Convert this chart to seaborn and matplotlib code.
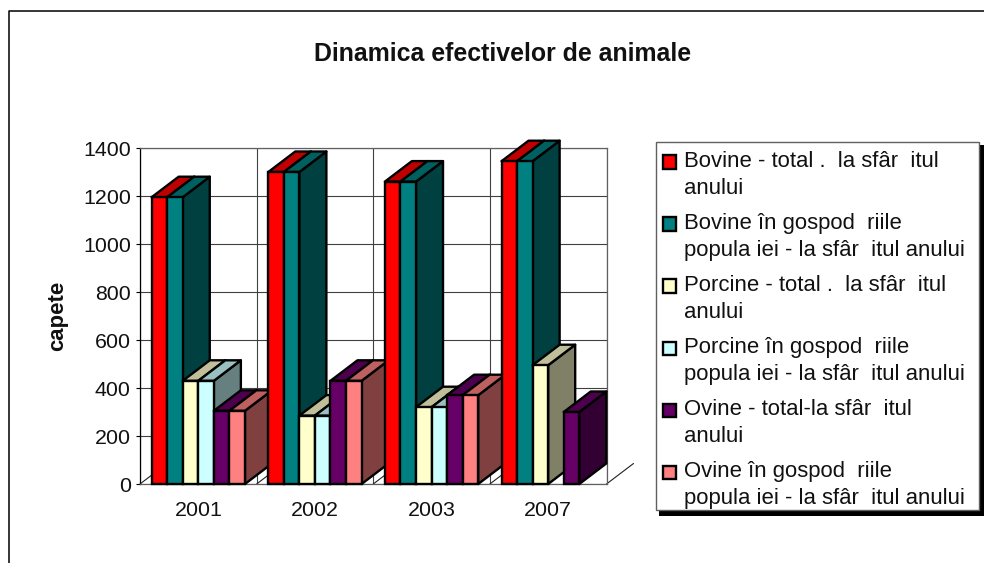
import numpy as np
import pandas as pd
import matplotlib
matplotlib.use("Agg")
import matplotlib.pyplot as plt
from matplotlib.colors import to_rgb
from matplotlib.legend_handler import HandlerPatch
from matplotlib.lines import Line2D
from matplotlib.patches import Polygon, Rectangle
import seaborn as sns

years = ["2001", "2002", "2003", "2007"]
series_names = [
    "Bovine - total .  la sfâr  itul\nanului",
    "Bovine în gospod  riile\npopula iei - la sfâr  itul anului",
    "Porcine - total .  la sfâr  itul\nanului",
    "Porcine în gospod  riile\npopula iei - la sfâr  itul anului",
    "Ovine - total-la sfâr  itul\nanului",
    "Ovine în gospod  riile\npopula iei - la sfâr  itul anului",
]
bovine_total = [1195, 1300, 1260, 1345]
bovine_household = [1195, 1300, 1260, 1345]
porcine_total = [430, 285, 320, 495]
porcine_household = [430, 285, 320, np.nan]
ovine_total = [305, 430, 370, 300]
ovine_household = [305, 430, 370, np.nan]
colors = ["#FF0000", "#008080", "#FFFFCC", "#CCFFFF", "#660066", "#FF8080"]

W, H = 984, 563
sns.set_style("white")
plt.rcParams["font.family"] = ["Liberation Sans", "DejaVu Sans"]
plt.rcParams["text.color"] = "#111111"
plt.rcParams["xtick.color"] = "#111111"
plt.rcParams["ytick.color"] = "#111111"
plt.rcParams["axes.labelcolor"] = "#111111"

values = [bovine_total, bovine_household, porcine_total,
          porcine_household, ovine_total, ovine_household]
df = pd.DataFrame({
    "year": np.repeat(years, len(series_names)),
    "series": series_names * len(years),
    "value": [values[s][y] for y in range(len(years)) for s in range(len(series_names))],
})

fig = plt.figure(figsize=(W / 100, H / 100), dpi=100, facecolor="white")
ax = fig.add_axes([140 / W, 1 - 484 / H, 466.5 / W, 336 / H])
sns.barplot(data=df, x="year", y="value", hue="series", hue_order=series_names,
            order=years, palette=colors, width=0.8, gap=0, saturation=1,
            edgecolor="black", linewidth=1.7, ax=ax)
ax.set_xlim(-0.5, 3.5)
ax.set_ylim(0, 1400)
ax.set_yticks(range(0, 1401, 200))
ax.set_xlabel("")
ax.set_ylabel("capete", fontsize=15.9, fontweight="bold", labelpad=11)
ax.tick_params(axis="y", labelsize=15.4, length=3, width=0.8, color="black", pad=3.6, left=True)
ax.tick_params(axis="x", labelsize=15.4, length=0, pad=12)

# walls
bounds = np.arange(len(years) + 1) - 0.5
ax.set_axisbelow(True)
ax.yaxis.grid(True, color="#404040", lw=0.8)
ax.set_xticks(bounds, minor=True)
ax.tick_params(axis="x", which="minor", length=0)
ax.xaxis.grid(True, which="minor", color="#404040", lw=0.8)
for side, col in {"left": "black", "right": "#606060", "top": "#606060", "bottom": "#606060"}.items():
    ax.spines[side].set_visible(True)
    ax.spines[side].set_color(col)
    ax.spines[side].set_linewidth(0.9)

# depth of the pseudo-3D bars, in pixels converted through the axes scales
DX_PX, DY_PX = 27, 20.5
dx = DX_PX / (466.5 / 4)
dy = DY_PX / (336 / 1400)
for b in bounds:
    ax.add_line(Line2D([b, b + dx], [0, dy], color="#202020", lw=0.8, clip_on=False, zorder=1.5))


def shade(c, f):
    return tuple(v * f for v in to_rgb(c))


bars = [p for p in ax.patches if p.get_height() > 0]
for i, p in enumerate(sorted(bars, key=lambda r: r.get_x())):
    x0, x1, h = p.get_x(), p.get_x() + p.get_width(), p.get_height()
    face = p.get_facecolor()[:3]
    z = 3 + i
    p.set_zorder(z + 0.5)
    p.set_clip_on(False)
    ax.add_patch(Polygon([(x1, 0), (x1 + dx, dy), (x1 + dx, h + dy), (x1, h)],
                         facecolor=shade(face, 0.5), edgecolor="black", lw=1.7,
                         clip_on=False, zorder=z, joinstyle="round"))
    ax.add_patch(Polygon([(x0, h), (x0 + dx, h + dy), (x1 + dx, h + dy), (x1, h)],
                         facecolor=shade(face, 0.75), edgecolor="black", lw=1.7,
                         clip_on=False, zorder=z, joinstyle="round"))

handles, labels = ax.get_legend_handles_labels()
ax.get_legend().remove()


def px_rect(left, top, right, bottom, **kw):
    return Rectangle((left / W, 1 - bottom / H), (right - left) / W, (bottom - top) / H,
                     transform=fig.transFigure, **kw)


# legend box and its drop shadow
fig.add_artist(px_rect(659, 145, 986, 516, facecolor="black", edgecolor="none", zorder=1))
fig.add_artist(px_rect(655.5, 141.5, 979, 510, facecolor="white", edgecolor="#606060", lw=1, zorder=2))


def first_line_swatch(legend, orig_handle, xdescent, ydescent, width, height, fontsize):
    # keep the swatch next to the first line of its two-line label
    return Rectangle((-xdescent, -ydescent + 0.58 * fontsize), width, height)


swatch = HandlerPatch(patch_func=first_line_swatch)
leg = fig.legend(handles, labels, loc="upper left",
                 bbox_to_anchor=(655.5 / W, 1 - 143.3 / H),
                 borderaxespad=0, fontsize=15.95, frameon=False,
                 handlelength=0.57, handleheight=0.57, handletextpad=0.36,
                 borderpad=0.34, labelspacing=0.64,
                 handler_map={h: swatch for h in handles})
leg.set_zorder(3)
for t in leg.get_texts():
    t.set_linespacing(1.37)

fig.text(502.5 / W, 1 - 54 / H, "Dinamica efectivelor de animale", ha="center",
         va="center", fontsize=17.95, fontweight="bold")

# chart area border (open at the bottom of the crop)
fig.add_artist(Line2D([8.5 / W, 8.5 / W, 1], [0, 1 - 11 / H, 1 - 11 / H], color="black", lw=1.1))

fig.savefig("out.png", dpi=100, facecolor="white")
